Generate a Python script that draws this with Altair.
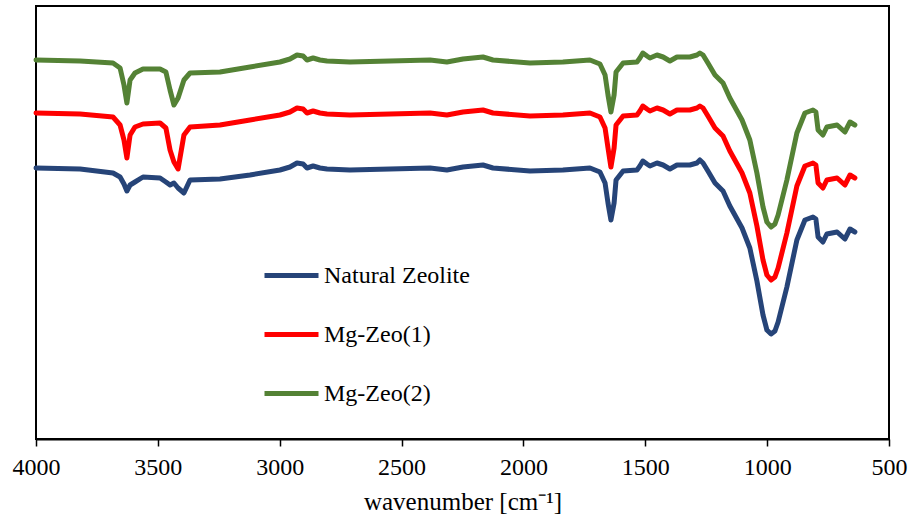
import altair as alt
import pandas as pd

wavenumber = [4000, 3819, 3684, 3655, 3639, 3627, 3614, 3594, 3561, 3491,
              3467, 3450, 3434, 3417, 3393, 3368, 3245, 3122, 2999, 2958,
              2929, 2904, 2888, 2863, 2835, 2806, 2712, 2383, 2314, 2248,
              2166, 2125, 1973, 1838, 1727, 1686, 1665, 1653, 1641, 1628,
              1620, 1591, 1534, 1522, 1510, 1493, 1481, 1452, 1427, 1399,
              1370, 1317, 1288, 1276, 1263, 1243, 1214, 1181, 1153, 1103,
              1071, 1042, 1017, 1001, 984, 968, 955, 919, 878, 845,
              812, 800, 791, 771, 755, 713, 681, 660, 640]

natural_zeolite = [271, 270, 266, 262, 255, 248, 254, 257, 262, 261,
                   257, 254, 256, 251, 246, 259, 260, 264, 269, 272,
                   276, 275, 271, 273, 271, 270, 269, 271, 269, 272,
                   274, 271, 268, 269, 271, 267, 256, 236, 219, 236,
                   259, 268, 269, 273, 278, 275, 273, 276, 274, 270,
                   274, 274, 276, 279, 276, 268, 256, 248, 233, 211,
                   191, 158, 124, 109, 105, 108, 117, 152, 199, 219,
                   222, 220, 202, 197, 205, 207, 200, 210, 207]

mg_zeo_1 = [326, 325, 322, 314, 299, 281, 304, 312, 315, 316,
            311, 289, 277, 270, 304, 312, 314, 319, 324, 327,
            331, 330, 326, 328, 326, 325, 324, 326, 324, 327,
            329, 326, 323, 324, 326, 322, 311, 291, 272, 291,
            314, 323, 324, 328, 333, 330, 328, 331, 329, 325,
            329, 329, 331, 333, 331, 323, 311, 303, 288, 266,
            246, 213, 179, 164, 159, 162, 171, 206, 253, 273,
            276, 274, 256, 251, 259, 261, 254, 264, 261]

mg_zeo_2 = [379, 378, 376, 371, 354, 336, 359, 366, 370, 370,
            367, 349, 334, 341, 359, 366, 367, 372, 377, 380,
            384, 383, 379, 381, 379, 378, 377, 379, 377, 380,
            382, 379, 376, 377, 379, 375, 364, 344, 327, 344,
            367, 376, 377, 381, 386, 383, 381, 384, 382, 378,
            382, 382, 384, 386, 384, 376, 364, 356, 341, 319,
            299, 266, 232, 217, 212, 215, 224, 259, 306, 326,
            329, 327, 309, 304, 312, 314, 307, 317, 314]

series_names = ["Natural Zeolite", "Mg-Zeo(1)", "Mg-Zeo(2)"]
series_colors = ["#264478", "#FF0000", "#548235"]
x_ticks = [4000, 3500, 3000, 2500, 2000, 1500, 1000, 500]

rows = []
for name, vals in zip(series_names, [natural_zeolite, mg_zeo_1, mg_zeo_2]):
    assert len(vals) == len(wavenumber)
    for w, v in zip(wavenumber, vals):
        rows.append({"wavenumber": w, "transmittance": v, "series": name})
df = pd.DataFrame(rows)

FONT = "Liberation Serif"

chart = alt.Chart(df).mark_line(strokeWidth=5, strokeCap="round", strokeJoin="round").encode(
    x=alt.X("wavenumber:Q",
            scale=alt.Scale(domain=[4000, 500], nice=False, zero=False),
            axis=alt.Axis(values=x_ticks, title="wavenumber [cm⁻¹]", grid=False,
                          labelFlush=False, labelOverlap=False, format="d")),
    y=alt.Y("transmittance:Q", scale=alt.Scale(domain=[0, 433], nice=False, zero=False), axis=None),
    color=alt.Color("series:N",
                    scale=alt.Scale(domain=series_names, range=series_colors),
                    legend=alt.Legend(title=None, orient="none", legendX=226, legendY=240,
                                      symbolType="stroke", symbolSize=2916, symbolStrokeWidth=5,
                                      labelFont=FONT, labelFontSize=24, labelColor="black",
                                      labelOffset=3, rowPadding=17, labelLimit=400)),
    order=alt.Order("series:N"),
    detail="series:N",
).properties(
    width=853, height=433,
    padding={"left": 36, "top": 6, "right": 22, "bottom": 81},
    autosize=alt.AutoSizeParams(type="none"),
).configure_view(
    stroke="black", strokeWidth=2
).configure_axis(
    domainColor="black", domainWidth=2, tickColor="black", tickWidth=1.5, tickSize=7,
    labelFont=FONT, labelFontSize=24, labelColor="black", labelPadding=9,
    titleFont=FONT, titleFontSize=25, titleFontWeight="normal", titleColor="black", titlePadding=10,
)

chart.save("out.html", embed_options={"renderer": "svg", "actions": False})
